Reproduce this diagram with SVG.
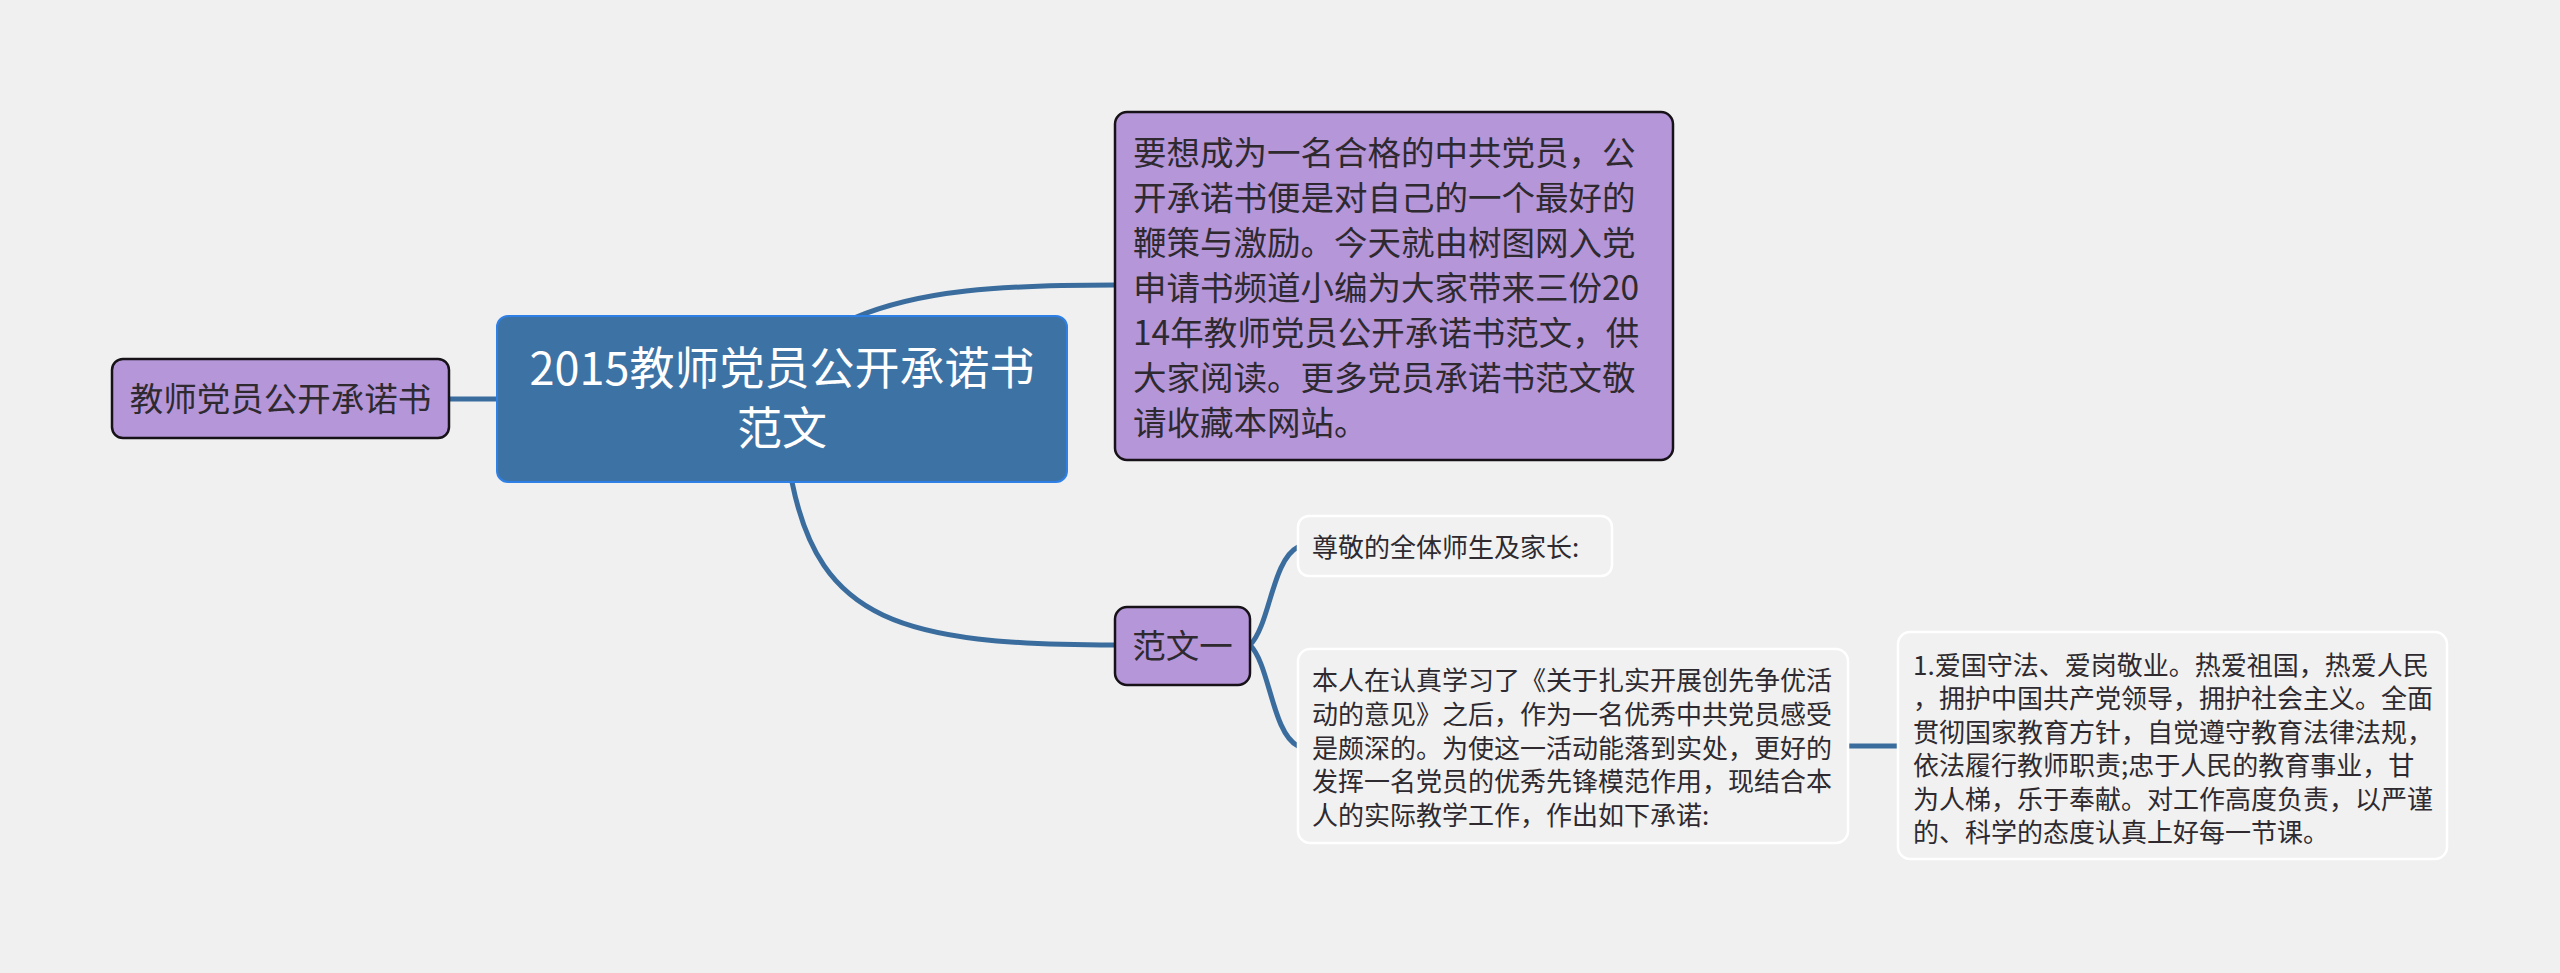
<svg xmlns="http://www.w3.org/2000/svg" width="2560" height="973" viewBox="0 0 2560 973">
<style>
.t{font-family:"Noto Sans CJK SC","Noto Sans",sans-serif;fill:#2e2a2f}
.purple{fill:#b596d9;stroke:#161218;stroke-width:2.5}
.light{fill:#f1f1f1;stroke:#ffffff;stroke-width:2.5}
.con{fill:none;stroke:#3a6d9e;stroke-width:5;stroke-linecap:round}
</style>
<rect width="2560" height="973" fill="#f0f0f0"/>
<g id="connectors">
<path class="con" d="M449 399 L497 399"/>
<path class="con" d="M854 318 C 920 290, 1000 285, 1115 285"/>
<path class="con" d="M792 482 C 820 620, 900 645, 1115 645"/>
<path class="con" d="M1250 645 C 1270 625, 1272 560, 1298 547"/>
<path class="con" d="M1250 645 C 1270 665, 1272 733, 1298 746"/>
<path class="con" d="M1849 746 L1897 746"/>
</g>
<g id="central">
<rect x="497" y="316" width="570" height="166" rx="11" fill="#3d72a4" stroke="#2f80e6" stroke-width="2"/>
<text class="t" x="782" y="385" text-anchor="middle" font-size="45" style="fill:#ffffff">2015教师党员公开承诺书</text>
<text class="t" x="782" y="445" text-anchor="middle" font-size="45" style="fill:#ffffff">范文</text>
</g>
<g id="left-node">
<rect class="purple" x="112" y="359" width="337" height="79" rx="11"/>
<text class="t" x="280.5" y="411" text-anchor="middle" font-size="33.5">教师党员公开承诺书</text>
</g>
<g id="intro-node">
<rect class="purple" x="1115" y="112" width="558" height="348" rx="12"/>
<text class="t" font-size="33.5">
<tspan x="1133" y="164.5">要想成为一名合格的中共党员，公</tspan>
<tspan x="1133" y="209.5">开承诺书便是对自己的一个最好的</tspan>
<tspan x="1133" y="254.5">鞭策与激励。今天就由树图网入党</tspan>
<tspan x="1133" y="299.5">申请书频道小编为大家带来三份20</tspan>
<tspan x="1133" y="344.5">14年教师党员公开承诺书范文，供</tspan>
<tspan x="1133" y="389.5">大家阅读。更多党员承诺书范文敬</tspan>
<tspan x="1133" y="434.5">请收藏本网站。</tspan>
</text>
</g>
<g id="fanwen-node">
<rect class="purple" x="1115" y="607" width="135" height="78" rx="12"/>
<text class="t" x="1182.5" y="657.5" text-anchor="middle" font-size="33.5">范文一</text>
</g>
<g id="greeting-node">
<rect class="light" x="1298" y="516" width="314" height="60" rx="11"/>
<text class="t" x="1312" y="557" font-size="26">尊敬的全体师生及家长:</text>
</g>
<g id="text-node">
<rect class="light" x="1298" y="649" width="550" height="194" rx="12"/>
<text class="t" font-size="26">
<tspan x="1312" y="690">本人在认真学习了《关于扎实开展创先争优活</tspan>
<tspan x="1312" y="723.8">动的意见》之后，作为一名优秀中共党员感受</tspan>
<tspan x="1312" y="757.6">是颇深的。为使这一活动能落到实处，更好的</tspan>
<tspan x="1312" y="791.4">发挥一名党员的优秀先锋模范作用，现结合本</tspan>
<tspan x="1312" y="825.2">人的实际教学工作，作出如下承诺:</tspan>
</text>
</g>
<g id="promise-node">
<rect class="light" x="1898" y="632" width="549" height="227" rx="12"/>
<text class="t" font-size="26">
<tspan x="1913" y="675">1.爱国守法、爱岗敬业。热爱祖国，热爱人民</tspan>
<tspan x="1913" y="708.4">，拥护中国共产党领导，拥护社会主义。全面</tspan>
<tspan x="1913" y="741.8">贯彻国家教育方针，自觉遵守教育法律法规，</tspan>
<tspan x="1913" y="775.2">依法履行教师职责;忠于人民的教育事业，甘</tspan>
<tspan x="1913" y="808.6">为人梯，乐于奉献。对工作高度负责，以严谨</tspan>
<tspan x="1913" y="842">的、科学的态度认真上好每一节课。</tspan>
</text>
</g>
</svg>
